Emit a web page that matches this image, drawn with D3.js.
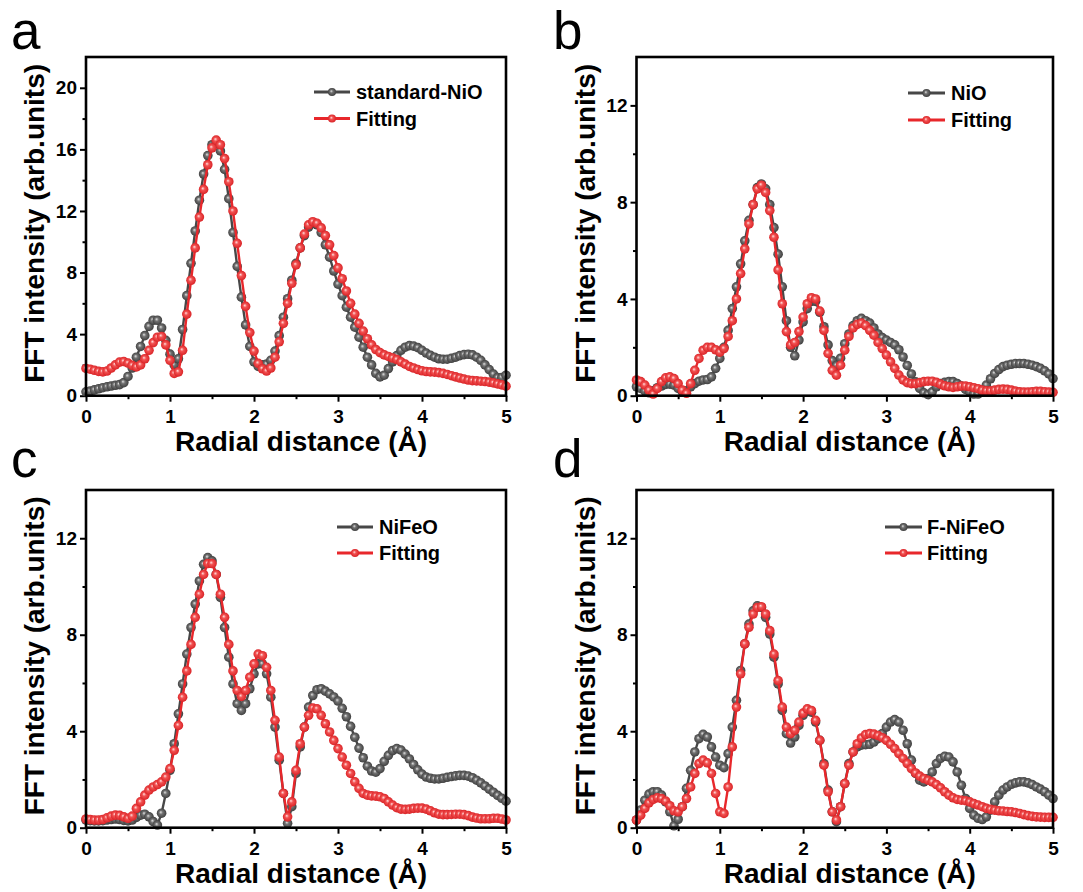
<!DOCTYPE html>
<html>
<head>
<meta charset="utf-8">
<script src="https://cdn.jsdelivr.net/npm/d3@7/dist/d3.min.js"></script>
<style>
  html, body { margin: 0; padding: 0; background: #fff; }
  svg { display: block; }
  text { font-family: "Liberation Sans", Arial, Helvetica, sans-serif; }
</style>
</head>
<body>
<div id="chart"></div>
<script>
// Radial grid (Å) shared by every spectrum: 0 … 5 in 0.05 Å steps
const radialDistance = d3.range(101).map(i => +(i * 0.05).toFixed(2));

// (a) standard NiO reference and its fit
const aStandardNiO = [
  0.25,0.30,0.38,0.45,0.52,0.58,0.63,0.68,0.72,0.85,
  1.25,1.80,2.50,3.20,3.90,4.50,4.90,4.90,4.40,3.60,
  2.70,2.00,2.40,4.30,6.50,8.60,10.70,12.70,14.40,15.60,
  16.30,16.40,15.90,14.70,12.80,10.60,8.40,6.40,4.60,3.20,
  2.20,1.90,2.00,2.05,2.30,2.90,3.90,5.10,6.30,7.50,
  8.60,9.60,10.40,10.95,11.20,11.10,10.60,9.80,9.00,8.10,
  7.25,6.50,5.75,5.10,4.45,3.80,3.15,2.50,2.00,1.45,
  1.22,1.33,1.76,2.20,2.60,2.95,3.15,3.25,3.22,3.12,
  2.95,2.77,2.62,2.50,2.40,2.37,2.37,2.43,2.50,2.60,
  2.67,2.69,2.65,2.50,2.30,2.00,1.70,1.40,1.18,1.18,
  1.33
];
const aFitting = [
  1.77,1.72,1.65,1.58,1.55,1.60,1.80,2.00,2.18,2.22,
  2.12,1.97,1.87,2.00,2.40,2.95,3.45,3.80,3.85,3.30,
  2.30,1.45,1.55,2.95,5.30,7.50,9.60,11.60,13.40,15.00,
  16.10,16.60,16.30,15.40,13.90,12.00,9.90,7.80,5.80,4.10,
  2.90,2.10,1.75,1.60,1.80,2.50,3.50,4.70,6.00,7.30,
  8.50,9.60,10.50,11.10,11.30,11.20,10.90,10.40,9.80,9.10,
  8.30,7.60,6.80,6.00,5.30,4.70,4.20,3.70,3.30,3.00,
  2.80,2.65,2.55,2.45,2.35,2.20,2.05,1.90,1.80,1.70,
  1.62,1.57,1.55,1.53,1.50,1.45,1.38,1.30,1.22,1.15,
  1.08,1.02,0.98,0.96,0.94,0.92,0.88,0.83,0.77,0.70,
  0.62
];

// (b) NiO sample and its fit
const bNiO = [
  0.37,0.30,0.20,0.12,0.20,0.33,0.40,0.47,0.48,0.44,
  0.30,0.16,0.20,0.37,0.50,0.60,0.65,0.67,0.78,1.13,
  1.54,2.00,2.70,3.60,4.50,5.45,6.40,7.25,7.90,8.60,
  8.75,8.55,7.90,6.95,5.85,4.50,3.10,2.00,1.65,2.30,
  3.05,3.60,3.90,3.90,3.45,2.85,2.10,1.45,1.25,1.55,
  2.15,2.55,2.90,3.10,3.20,3.10,3.00,2.80,2.55,2.40,
  2.30,2.20,2.10,1.90,1.60,1.25,0.90,0.57,0.30,0.12,
  0.05,0.16,0.37,0.50,0.55,0.58,0.58,0.50,0.40,0.26,
  0.16,0.07,0.07,0.16,0.44,0.70,0.92,1.08,1.20,1.26,
  1.30,1.33,1.33,1.33,1.30,1.26,1.20,1.13,1.03,0.90,
  0.71
];
const bFitting = [
  0.65,0.58,0.44,0.23,0.07,0.30,0.58,0.74,0.78,0.71,
  0.50,0.23,0.10,0.50,1.05,1.54,1.88,2.00,2.00,1.90,
  1.80,1.95,2.45,3.10,4.00,5.05,6.07,7.10,7.90,8.55,
  8.70,8.40,7.65,6.55,5.20,3.80,2.65,2.10,2.20,2.65,
  3.25,3.80,4.05,4.00,3.50,2.70,1.75,1.05,0.85,1.26,
  1.88,2.45,2.80,2.95,3.00,2.90,2.70,2.50,2.20,1.95,
  1.68,1.40,1.13,0.85,0.65,0.54,0.50,0.50,0.54,0.58,
  0.60,0.60,0.55,0.48,0.41,0.37,0.34,0.37,0.40,0.40,
  0.37,0.33,0.29,0.23,0.20,0.20,0.23,0.26,0.27,0.26,
  0.23,0.19,0.16,0.15,0.15,0.16,0.18,0.18,0.16,0.15,
  0.14
];

// (c) NiFeO sample and its fit
const cNiFeO = [
  0.32,0.29,0.28,0.28,0.29,0.32,0.34,0.36,0.34,0.30,
  0.28,0.32,0.43,0.52,0.56,0.45,0.25,0.11,0.60,1.42,
  2.38,3.48,4.72,5.96,7.20,8.30,9.27,10.23,10.92,11.20,
  11.06,10.50,9.55,8.30,7.07,5.96,5.14,4.86,5.14,5.76,
  6.38,6.79,6.79,6.38,5.41,4.17,2.80,1.42,0.18,0.87,
  2.25,3.35,4.17,5.00,5.48,5.72,5.76,5.66,5.55,5.42,
  5.25,4.95,4.60,4.20,3.75,3.30,2.90,2.55,2.35,2.30,
  2.45,2.75,3.00,3.20,3.28,3.22,3.05,2.85,2.62,2.40,
  2.22,2.10,2.05,2.02,2.02,2.05,2.09,2.12,2.15,2.17,
  2.17,2.14,2.07,1.97,1.86,1.73,1.60,1.47,1.34,1.22,
  1.10
];
const cFitting = [
  0.36,0.34,0.32,0.32,0.34,0.41,0.48,0.52,0.51,0.45,
  0.39,0.48,0.80,1.07,1.35,1.56,1.69,1.79,1.90,2.10,
  2.45,3.21,4.24,5.41,6.50,7.60,8.72,9.68,10.50,10.95,
  10.95,10.50,9.68,8.72,7.60,6.50,5.69,5.44,5.69,6.24,
  6.79,7.20,7.13,6.65,5.69,4.45,2.93,1.42,0.45,1.07,
  2.38,3.48,4.17,4.66,4.96,4.93,4.66,4.31,3.97,3.62,
  3.28,2.93,2.59,2.25,1.90,1.63,1.42,1.35,1.32,1.31,
  1.28,1.21,1.07,0.94,0.83,0.77,0.76,0.77,0.80,0.81,
  0.81,0.77,0.70,0.62,0.56,0.54,0.54,0.55,0.56,0.56,
  0.54,0.50,0.44,0.40,0.37,0.37,0.37,0.39,0.39,0.36,
  0.32
];

// (d) F-NiFeO sample and its fit
const dFNiFeO = [
  0.32,0.73,1.14,1.39,1.49,1.49,1.35,1.07,0.66,0.08,
  0.35,0.87,1.63,2.38,3.14,3.69,3.87,3.76,3.35,2.93,
  2.59,2.49,3.07,4.17,5.28,6.52,7.62,8.44,8.99,9.20,
  9.13,8.72,8.03,7.07,5.96,4.86,3.90,3.51,3.76,4.24,
  4.66,4.86,4.79,4.38,3.62,2.66,1.56,0.66,0.25,0.87,
  1.83,2.66,3.14,3.35,3.42,3.44,3.46,3.55,3.69,3.90,
  4.17,4.38,4.48,4.38,4.04,3.48,2.80,2.25,1.97,1.90,
  2.04,2.31,2.66,2.87,2.96,2.93,2.73,2.31,1.76,1.21,
  0.80,0.52,0.39,0.34,0.45,0.73,1.07,1.35,1.56,1.69,
  1.80,1.86,1.90,1.90,1.86,1.79,1.69,1.60,1.49,1.35,
  1.21
];
const dFitting = [
  0.32,0.52,0.80,1.03,1.17,1.24,1.21,1.10,0.91,0.70,
  0.66,0.87,1.21,1.69,2.25,2.66,2.80,2.69,2.25,1.42,
  0.66,0.59,1.69,3.35,5.00,6.38,7.62,8.31,8.86,9.13,
  9.16,8.86,8.17,7.20,6.10,5.00,4.17,3.90,4.04,4.38,
  4.75,4.93,4.86,4.45,3.62,2.59,1.49,0.66,0.32,0.87,
  1.83,2.59,3.14,3.48,3.72,3.86,3.90,3.88,3.82,3.73,
  3.62,3.46,3.28,3.07,2.87,2.66,2.45,2.27,2.14,2.04,
  1.97,1.90,1.79,1.65,1.49,1.35,1.24,1.17,1.14,1.12,
  1.07,1.00,0.94,0.87,0.80,0.76,0.73,0.70,0.69,0.67,
  0.66,0.63,0.59,0.54,0.50,0.47,0.45,0.44,0.43,0.43,
  0.43
];

// Axis ticks
const xMajorTicks = [0, 1, 2, 3, 4, 5];
const xMinorTicks = [0.5, 1.5, 2.5, 3.5, 4.5];
const yMajorTicksA = [0, 4, 8, 12, 16, 20];
const yMinorTicksA = [2, 6, 10, 14, 18];
const yMajorTicksBCD = [0, 4, 8, 12];
const yMinorTicksBCD = [2, 6, 10];

const panelLetters = ["a", "b", "c", "d"];
const sampleNames = ["standard-NiO", "NiO", "NiFeO", "F-NiFeO"];
const fitName = "Fitting";
const xTitle = "Radial distance (Å)";
const yTitle = "FFT intensity (arb.units)";

// Panel geometry and styling
const panels = [
  { letter: panelLetters[0], sample: sampleNames[0], exp: aStandardNiO, fit: aFitting,
    yMax: 22, yMajor: yMajorTicksA, yMinor: yMinorTicksA,
    box: { x0: 86, x1: 506, y0: 57, y1: 395.7 },
    letterPos: [11, 49], legend: { lx0: 314, lx1: 350, tx: 356, rows: [92, 118.5] } },
  { letter: panelLetters[1], sample: sampleNames[1], exp: bNiO, fit: bFitting,
    yMax: 14, yMajor: yMajorTicksBCD, yMinor: yMinorTicksBCD,
    box: { x0: 636.5, x1: 1053, y0: 57, y1: 395.7 },
    letterPos: [553, 49], legend: { lx0: 908, lx1: 945, tx: 951, rows: [93, 120] } },
  { letter: panelLetters[2], sample: sampleNames[2], exp: cNiFeO, fit: cFitting,
    yMax: 14, yMajor: yMajorTicksBCD, yMinor: yMinorTicksBCD,
    box: { x0: 86, x1: 506, y0: 490, y1: 827.7 },
    letterPos: [11, 477], legend: { lx0: 337, lx1: 373, tx: 379, rows: [527, 553] } },
  { letter: panelLetters[3], sample: sampleNames[3], exp: dFNiFeO, fit: dFitting,
    yMax: 14, yMajor: yMajorTicksBCD, yMinor: yMinorTicksBCD,
    box: { x0: 636.5, x1: 1053, y0: 490, y1: 827.7 },
    letterPos: [553, 477], legend: { lx0: 885, lx1: 922, tx: 927, rows: [527, 553] } }
];

const styles = {
  exp: { line: "#474747", grad: "ballGrey", hi: "#e2e2e2", mid: "#727272", edge: "#383838" },
  fit: { line: "#e8272b", grad: "ballRed", hi: "#ffe0e0", mid: "#f25252", edge: "#d61d21" }
};
const markerR = 4.8;

const svg = d3.select("#chart").append("svg")
  .attr("width", 1083).attr("height", 892);

// Shaded sphere fills for the markers
const defs = svg.append("defs");
Object.values(styles).forEach(s => {
  const g = defs.append("radialGradient").attr("id", s.grad)
    .attr("cx", "50%").attr("cy", "50%").attr("r", "55%")
    .attr("fx", "40%").attr("fy", "38%");
  g.append("stop").attr("offset", "0%").attr("stop-color", s.hi);
  g.append("stop").attr("offset", "35%").attr("stop-color", s.mid);
  g.append("stop").attr("offset", "100%").attr("stop-color", s.edge);
});

panels.forEach(p => {
  const b = p.box;
  const x = d3.scaleLinear().domain([0, 5]).range([b.x0, b.x1]);
  const y = d3.scaleLinear().domain([0, p.yMax]).range([b.y1, b.y0]);
  const g = svg.append("g");

  // Axes: major ticks with labels, minor ticks without
  const styleAxis = sel => {
    sel.select(".domain").remove();
    sel.selectAll(".tick line").attr("stroke", "#000").attr("stroke-width", 2);
    sel.selectAll(".tick text")
      .attr("fill", "#000").style("font-size", "19px").style("font-weight", "bold")
      .style("font-family", '"Liberation Sans", Arial, sans-serif');
  };
  g.append("g").attr("transform", `translate(0,${b.y1})`)
    .call(d3.axisBottom(x).tickValues(xMajorTicks).tickSize(6).tickSizeOuter(0).tickPadding(8).tickFormat(d3.format("d")))
    .call(styleAxis);
  g.append("g").attr("transform", `translate(0,${b.y1})`)
    .call(d3.axisBottom(x).tickValues(xMinorTicks).tickSize(3.5).tickSizeOuter(0).tickFormat(""))
    .call(styleAxis);
  g.append("g").attr("transform", `translate(${b.x0},0)`)
    .call(d3.axisLeft(y).tickValues(p.yMajor).tickSize(6).tickSizeOuter(0).tickPadding(3).tickFormat(d3.format("d")))
    .call(styleAxis);
  g.append("g").attr("transform", `translate(${b.x0},0)`)
    .call(d3.axisLeft(y).tickValues(p.yMinor).tickSize(3.5).tickSizeOuter(0).tickFormat(""))
    .call(styleAxis);

  // Series: experimental first, fit on top
  const line = d3.line().x(d => x(d[0])).y(d => y(d[1]));
  [["exp", p.exp], ["fit", p.fit]].forEach(([key, vals]) => {
    const s = styles[key];
    const pts = radialDistance.map((r, i) => [r, vals[i]]);
    g.append("path").datum(pts).attr("d", line)
      .attr("fill", "none").attr("stroke", s.line).attr("stroke-width", 2.4);
    g.append("g").selectAll("circle").data(pts).join("circle")
      .attr("cx", d => x(d[0])).attr("cy", d => y(d[1])).attr("r", markerR)
      .attr("fill", `url(#${s.grad})`);
  });

  // Frame
  g.append("rect").attr("x", b.x0).attr("y", b.y0)
    .attr("width", b.x1 - b.x0).attr("height", b.y1 - b.y0)
    .attr("fill", "none").attr("stroke", "#000").attr("stroke-width", 2.6);

  // Legend
  const L = p.legend;
  [["exp", p.sample], ["fit", fitName]].forEach(([key, label], i) => {
    const s = styles[key], yy = L.rows[i];
    g.append("line").attr("x1", L.lx0).attr("x2", L.lx1).attr("y1", yy).attr("y2", yy)
      .attr("stroke", s.line).attr("stroke-width", 3);
    g.append("circle").attr("cx", (L.lx0 + L.lx1) / 2).attr("cy", yy).attr("r", 4)
      .attr("fill", `url(#${s.grad})`);
    g.append("text").attr("x", L.tx).attr("y", yy).attr("dy", "0.36em")
      .style("font-size", "20px").style("font-weight", "bold").text(label);
  });

  // Axis titles
  g.append("text").attr("x", (b.x0 + b.x1) / 2 + 5).attr("y", b.y1 + 55)
    .attr("text-anchor", "middle").style("font-size", "28px").style("font-weight", "bold")
    .text(xTitle);
  g.append("text")
    .attr("transform", `translate(${b.x0 - 42},${(b.y0 + b.y1) / 2 - 3}) rotate(-90)`)
    .attr("text-anchor", "middle").style("font-size", "28px").style("font-weight", "bold")
    .text(yTitle);

  // Panel letter
  g.append("text").attr("x", p.letterPos[0]).attr("y", p.letterPos[1])
    .style("font-size", "53px").text(p.letter);
});
</script>
</body>
</html>
